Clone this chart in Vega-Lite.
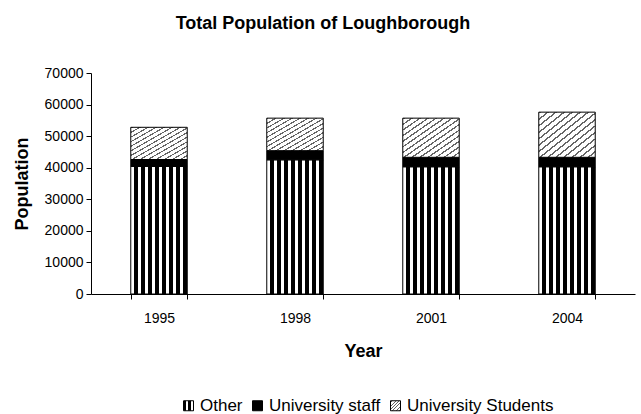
{
  "$schema": "https://vega.github.io/schema/vega-lite/v6.json",
  "width": 544,
  "height": 221,
  "autosize": {"type": "none"},
  "padding": {"left": 91, "top": 73, "right": 6, "bottom": 120},
  "background": "white",
  "title": {
    "text": "Total Population of Loughborough",
    "font": "Liberation Sans",
    "fontSize": 18,
    "fontWeight": "bold",
    "color": "black",
    "anchor": "middle",
    "dx": -40,
    "offset": 33
  },
  "data": {
    "values": [
      {"year": "1995", "type": "Other", "idx": 1, "population": 40400},
      {"year": "1995", "type": "University staff", "idx": 2, "population": 2200},
      {"year": "1995", "type": "University Students", "idx": 3, "population": 10200},
      {"year": "1998", "type": "Other", "idx": 1, "population": 42500},
      {"year": "1998", "type": "University staff", "idx": 2, "population": 2900},
      {"year": "1998", "type": "University Students", "idx": 3, "population": 10300},
      {"year": "2001", "type": "Other", "idx": 1, "population": 40300},
      {"year": "2001", "type": "University staff", "idx": 2, "population": 3000},
      {"year": "2001", "type": "University Students", "idx": 3, "population": 12400},
      {"year": "2004", "type": "Other", "idx": 1, "population": 40300},
      {"year": "2004", "type": "University staff", "idx": 2, "population": 3000},
      {"year": "2004", "type": "University Students", "idx": 3, "population": 14300}
    ]
  },
  "mark": {"type": "bar", "stroke": "black", "strokeWidth": 1, "fillOpacity": 1},
  "encoding": {
    "x": {
      "field": "year",
      "type": "ordinal",
      "title": "Year",
      "scale": {"paddingInner": 0.585, "paddingOuter": 0.2925},
      "axis": {
        "labelAngle": 0,
        "tickBand": "extent",
        "tickSize": 5,
        "labelPadding": 12,
        "titlePadding": 17
      }
    },
    "y": {
      "field": "population",
      "type": "quantitative",
      "stack": "zero",
      "title": "Population",
      "scale": {"domain": [0, 70000], "nice": false},
      "axis": {
        "values": [0, 10000, 20000, 30000, 40000, 50000, 60000, 70000],
        "format": "d",
        "tickSize": 5,
        "labelPadding": 3,
        "titlePadding": 13
      }
    },
    "order": {"field": "idx", "type": "quantitative"},
    "fill": {
      "field": "type",
      "type": "nominal",
      "scale": {
        "domain": ["Other", "University staff", "University Students"],
        "range": [
          {"expr": "{gradient:'linear',x1:0,y1:0,x2:1,y2:0,stops:[{offset:0,color:'white'},{offset:0.05,color:'white'},{offset:0.05,color:'black'},{offset:0.125,color:'black'},{offset:0.125,color:'white'},{offset:0.175,color:'white'},{offset:0.175,color:'black'},{offset:0.25,color:'black'},{offset:0.25,color:'white'},{offset:0.3,color:'white'},{offset:0.3,color:'black'},{offset:0.375,color:'black'},{offset:0.375,color:'white'},{offset:0.425,color:'white'},{offset:0.425,color:'black'},{offset:0.5,color:'black'},{offset:0.5,color:'white'},{offset:0.55,color:'white'},{offset:0.55,color:'black'},{offset:0.625,color:'black'},{offset:0.625,color:'white'},{offset:0.675,color:'white'},{offset:0.675,color:'black'},{offset:0.75,color:'black'},{offset:0.75,color:'white'},{offset:0.8,color:'white'},{offset:0.8,color:'black'},{offset:0.875,color:'black'},{offset:0.875,color:'white'},{offset:0.925,color:'white'},{offset:0.925,color:'black'},{offset:1,color:'black'}]}"},
          "black",
          {"expr": "{gradient:'linear',x1:0,y1:0,x2:1,y2:1,stops:[{offset:0,color:'#666666'},{offset:0.02,color:'#666666'},{offset:0.02,color:'white'},{offset:0.0714,color:'white'},{offset:0.0714,color:'#666666'},{offset:0.0914,color:'#666666'},{offset:0.0914,color:'white'},{offset:0.1429,color:'white'},{offset:0.1429,color:'#666666'},{offset:0.1629,color:'#666666'},{offset:0.1629,color:'white'},{offset:0.2143,color:'white'},{offset:0.2143,color:'#666666'},{offset:0.2343,color:'#666666'},{offset:0.2343,color:'white'},{offset:0.2857,color:'white'},{offset:0.2857,color:'#666666'},{offset:0.3057,color:'#666666'},{offset:0.3057,color:'white'},{offset:0.3571,color:'white'},{offset:0.3571,color:'#666666'},{offset:0.3771,color:'#666666'},{offset:0.3771,color:'white'},{offset:0.4286,color:'white'},{offset:0.4286,color:'#666666'},{offset:0.4486,color:'#666666'},{offset:0.4486,color:'white'},{offset:0.5,color:'white'},{offset:0.5,color:'#666666'},{offset:0.52,color:'#666666'},{offset:0.52,color:'white'},{offset:0.5714,color:'white'},{offset:0.5714,color:'#666666'},{offset:0.5914,color:'#666666'},{offset:0.5914,color:'white'},{offset:0.6429,color:'white'},{offset:0.6429,color:'#666666'},{offset:0.6629,color:'#666666'},{offset:0.6629,color:'white'},{offset:0.7143,color:'white'},{offset:0.7143,color:'#666666'},{offset:0.7343,color:'#666666'},{offset:0.7343,color:'white'},{offset:0.7857,color:'white'},{offset:0.7857,color:'#666666'},{offset:0.8057,color:'#666666'},{offset:0.8057,color:'white'},{offset:0.8571,color:'white'},{offset:0.8571,color:'#666666'},{offset:0.8771,color:'#666666'},{offset:0.8771,color:'white'},{offset:0.9286,color:'white'},{offset:0.9286,color:'#666666'},{offset:0.9486,color:'#666666'},{offset:0.9486,color:'white'},{offset:1,color:'white'}]}"}
        ]
      },
      "legend": {
        "title": null,
        "orient": "none",
        "direction": "horizontal",
        "legendX": 89,
        "legendY": 324,
        "symbolType": "square",
        "symbolSize": 100,
        "symbolStrokeColor": "black",
        "symbolStrokeWidth": 1,
        "labelFontSize": 17,
        "labelFont": "Liberation Sans",
        "labelColor": "black",
        "labelOffset": 3,
        "columnPadding": 6,
        "encode": {
          "symbols": {
            "update": {
              "stroke": {"value": "black"},
              "strokeWidth": {"value": 1}
            }
          }
        }
      }
    }
  },
  "config": {
    "view": {"stroke": null},
    "axis": {
      "grid": false,
      "domainColor": "black",
      "tickColor": "black",
      "labelColor": "black",
      "titleColor": "black",
      "labelFont": "Liberation Sans",
      "titleFont": "Liberation Sans",
      "labelFontSize": 14,
      "titleFontSize": 18,
      "titleFontWeight": "bold",
      "domainWidth": 1,
      "tickWidth": 1
    }
  }
}
